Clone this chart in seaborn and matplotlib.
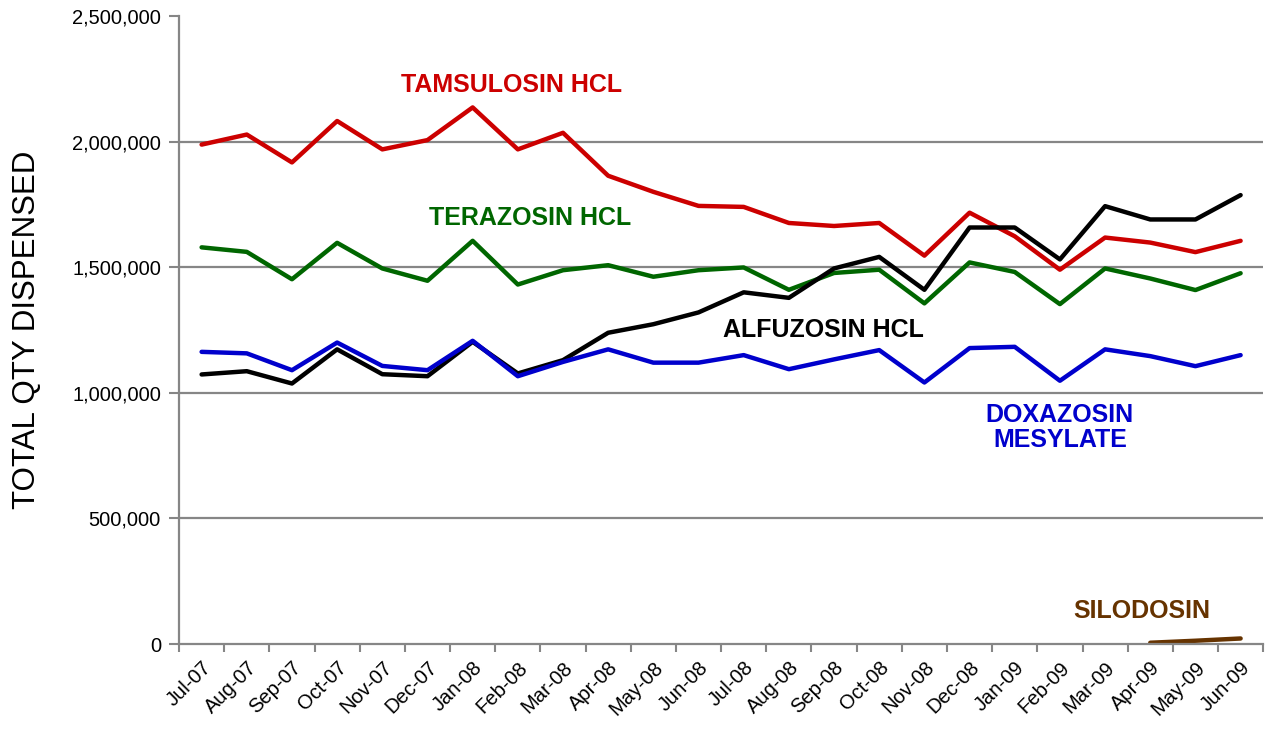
import numpy as np
import pandas as pd
import matplotlib
matplotlib.use("Agg")
import matplotlib.pyplot as plt
import seaborn as sns
from matplotlib.ticker import FuncFormatter, FixedLocator

months = ["Jul-07", "Aug-07", "Sep-07", "Oct-07", "Nov-07", "Dec-07",
          "Jan-08", "Feb-08", "Mar-08", "Apr-08", "May-08", "Jun-08",
          "Jul-08", "Aug-08", "Sep-08", "Oct-08", "Nov-08", "Dec-08",
          "Jan-09", "Feb-09", "Mar-09", "Apr-09", "May-09", "Jun-09"]

tamsulosin = [1988000, 2028000, 1917000, 2082000, 1969000, 2006000,
              2136000, 1969000, 2035000, 1864000, 1800000, 1744000,
              1740000, 1676000, 1664000, 1676000, 1546000, 1717000,
              1623000, 1490000, 1618000, 1598000, 1560000, 1605000]

terazosin = [1579000, 1561000, 1452000, 1597000, 1495000, 1446000,
             1605000, 1431000, 1488000, 1508000, 1462000, 1488000,
             1499000, 1410000, 1477000, 1490000, 1356000, 1519000,
             1481000, 1353000, 1495000, 1455000, 1409000, 1476000]

alfuzosin = [1073000, 1086000, 1037000, 1173000, 1074000, 1066000,
             1203000, 1077000, 1130000, 1239000, 1273000, 1320000,
             1400000, 1378000, 1495000, 1541000, 1410000, 1658000,
             1658000, 1531000, 1743000, 1690000, 1690000, 1787000]

doxazosin = [1163000, 1157000, 1090000, 1200000, 1107000, 1090000,
             1207000, 1066000, 1123000, 1173000, 1120000, 1120000,
             1150000, 1094000, 1133000, 1170000, 1041000, 1178000,
             1183000, 1048000, 1173000, 1146000, 1106000, 1150000]

silodosin = [np.nan] * 21 + [5000, 13000, 22000]

drug_names = ["TAMSULOSIN HCL", "TERAZOSIN HCL", "ALFUZOSIN HCL",
              "DOXAZOSIN\nMESYLATE", "SILODOSIN"]
series = [tamsulosin, terazosin, alfuzosin, doxazosin, silodosin]
colors = ["#CC0000", "#006600", "#000000", "#0000CC", "#663300"]

yticks = [0, 500000, 1000000, 1500000, 2000000, 2500000]

frames = []
for name, vals in zip(drug_names, series):
    frames.append(pd.DataFrame({"idx": np.arange(len(months)),
                                "month": months,
                                "qty": vals,
                                "drug": name}))
df = pd.concat(frames, ignore_index=True).dropna()

sns.set_style("white")
plt.rcParams["font.family"] = ["Liberation Sans", "DejaVu Sans"]
plt.rcParams["text.color"] = "black"
plt.rcParams["axes.labelcolor"] = "black"
plt.rcParams["xtick.color"] = "black"
plt.rcParams["ytick.color"] = "black"

fig = plt.figure(figsize=(12.67, 7.30), dpi=100)
ax = fig.add_axes([0.1413, 0.1178, 0.8557, 0.8603])

sns.lineplot(data=df, x="idx", y="qty", hue="drug",
             palette=dict(zip(drug_names, colors)),
             linewidth=3.2, legend=False, sort=False, ax=ax,
             estimator=None)

ax.set_xlim(-0.5, len(months) - 0.5)
ax.set_ylim(0, 2500000)

gray = "#868686"
# y axis
ax.yaxis.set_major_locator(FixedLocator(yticks))
ax.yaxis.set_major_formatter(FuncFormatter(lambda v, p: f"{int(v):,}"))
ax.tick_params(axis="y", which="major", length=7, width=1.5, color=gray,
               labelcolor="black", labelsize=14.5, pad=6, direction="out",
               left=True)
for v in yticks[1:-1]:
    ax.axhline(v, color=gray, linewidth=1.6, zorder=0)

# x axis
ax.set_xticks(np.arange(len(months)))
ax.set_xticklabels(months, rotation=45, ha="right", rotation_mode="anchor")
ax.set_xticks(np.arange(len(months) + 1) - 0.5, minor=True)
ax.tick_params(axis="x", which="major", length=0, labelsize=14.5, pad=10,
               labelcolor="black")
ax.tick_params(axis="x", which="minor", length=6, width=1.5, color=gray,
               direction="out", bottom=True)

for s in ["top", "right"]:
    ax.spines[s].set_visible(False)
for s in ["left", "bottom"]:
    ax.spines[s].set_color(gray)
    ax.spines[s].set_linewidth(1.6)

ax.set_xlabel("")
ax.set_ylabel("TOTAL QTY DISPENSED", fontsize=22.5, labelpad=22,
              color="black")

# series labels
label_pos = [(6.87, 2224000), (7.27, 1695000), (13.77, 1250000),
             (19.0, 860000), (20.81, 131000)]
for name, col, (lx, ly) in zip(drug_names, colors, label_pos):
    ax.text(lx, ly, name, color=col, fontsize=18, fontweight="bold",
            ha="center", va="center", linespacing=1.05)

fig.savefig("out.png", dpi=100)
